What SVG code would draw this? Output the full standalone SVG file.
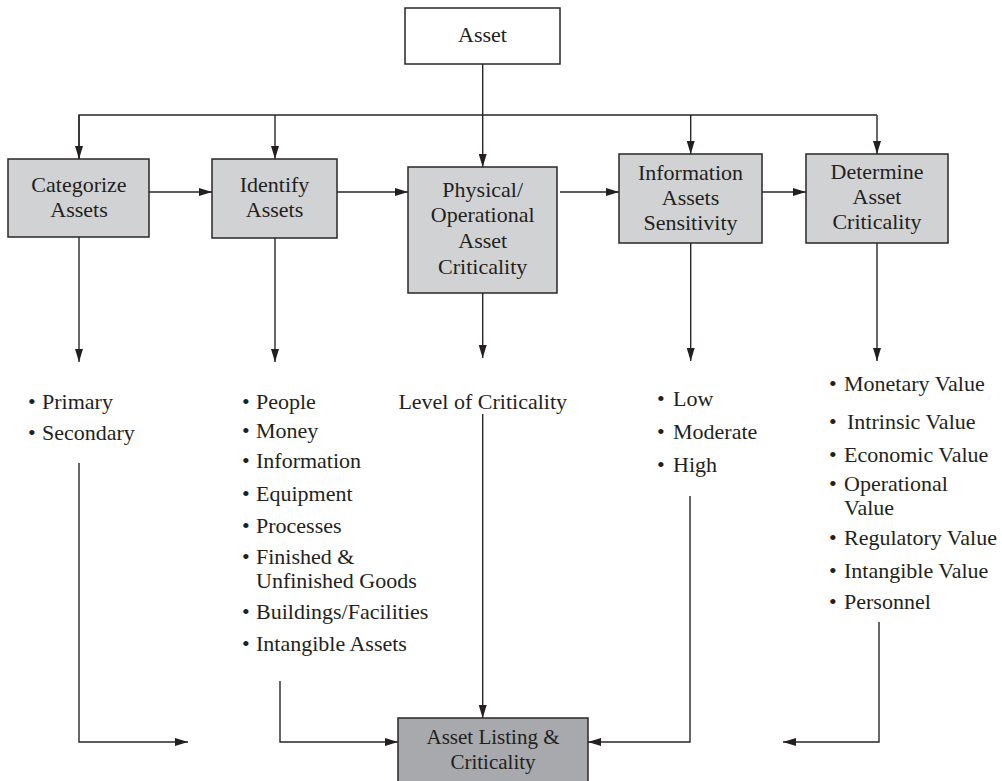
<svg xmlns="http://www.w3.org/2000/svg" width="1002" height="781" viewBox="0 0 1002 781">
  <style>
    .box { fill: #d1d2d4; stroke: #2a2627; stroke-width: 1.5; }
    .top { fill: #ffffff; stroke: #2a2627; stroke-width: 1.5; }
    .out { fill: #a7a9ac; stroke: #2a2627; stroke-width: 1.5; }
    .lbl { font-family: "Liberation Serif", "Times New Roman", serif; font-size: 22px; fill: #231f20; }
    .c { text-anchor: middle; }
    .wire { fill: none; stroke: #2a2627; stroke-width: 1.4; }
  </style>
  <defs>
    <marker id="ah" markerUnits="userSpaceOnUse" markerWidth="14" markerHeight="8" refX="13" refY="4" orient="auto">
      <path d="M0,0 L13,4 L0,8 z" fill="#231f20"/>
    </marker>
  </defs>
  <rect width="1002" height="781" fill="#ffffff"/>

  <!-- connectors -->
  <g id="connectors" class="wire">
    <!-- Asset fan-out -->
    <path d="M482.7,64 V167" marker-end="url(#ah)"/>
    <path d="M79,159 V115 H877"/>
    <path d="M79,115 V159" marker-end="url(#ah)"/>
    <path d="M275,115 V159" marker-end="url(#ah)"/>
    <path d="M690.7,115 V154" marker-end="url(#ah)"/>
    <path d="M877,115 V154" marker-end="url(#ah)"/>
    <!-- process chain -->
    <path d="M149,192 H212" marker-end="url(#ah)"/>
    <path d="M337,192 H408" marker-end="url(#ah)"/>
    <path d="M560,192 H619" marker-end="url(#ah)"/>
    <path d="M762,192 H806" marker-end="url(#ah)"/>
    <!-- boxes to their lists -->
    <path d="M79,237 V362" marker-end="url(#ah)"/>
    <path d="M275,238 V362" marker-end="url(#ah)"/>
    <path d="M482.7,293 V358" marker-end="url(#ah)"/>
    <path d="M690.7,243 V361" marker-end="url(#ah)"/>
    <path d="M877,243 V361" marker-end="url(#ah)"/>
    <!-- lists to the listing -->
    <path d="M79,463 V742 H188" marker-end="url(#ah)"/>
    <path d="M280,681 V742 H398" marker-end="url(#ah)"/>
    <path d="M482.7,414 V718" marker-end="url(#ah)"/>
    <path d="M690,496 V742 H588" marker-end="url(#ah)"/>
    <path d="M879,622 V742 H783" marker-end="url(#ah)"/>
  </g>

  <g id="asset">
    <rect class="top" x="405" y="8" width="155" height="56"/>
    <text class="lbl c" x="482.5" y="42">Asset</text>
  </g>

  <g id="categorize">
    <rect class="box" x="8" y="159" width="141" height="78"/>
    <text class="lbl c" x="79" y="192">Categorize</text>
    <text class="lbl c" x="79" y="217">Assets</text>
  </g>

  <g id="identify">
    <rect class="box" x="212" y="159" width="125" height="79"/>
    <text class="lbl c" x="274.5" y="192">Identify</text>
    <text class="lbl c" x="274.5" y="217">Assets</text>
  </g>

  <g id="physical">
    <rect class="box" x="408" y="167" width="149" height="126"/>
    <text class="lbl c" x="482.7" y="197">Physical/</text>
    <text class="lbl c" x="482.7" y="222">Operational</text>
    <text class="lbl c" x="482.7" y="248">Asset</text>
    <text class="lbl c" x="482.7" y="274">Criticality</text>
  </g>

  <g id="information">
    <rect class="box" x="619" y="154" width="143" height="89"/>
    <text class="lbl c" x="690.5" y="180">Information</text>
    <text class="lbl c" x="690.5" y="205">Assets</text>
    <text class="lbl c" x="690.5" y="230">Sensitivity</text>
  </g>

  <g id="determine">
    <rect class="box" x="806" y="154" width="142" height="89"/>
    <text class="lbl c" x="877" y="179">Determine</text>
    <text class="lbl c" x="877" y="204">Asset</text>
    <text class="lbl c" x="877" y="229">Criticality</text>
  </g>

  <g id="categories">
    <text class="lbl" y="409"><tspan x="28">•</tspan><tspan x="42">Primary</tspan></text>
    <text class="lbl" y="440"><tspan x="28">•</tspan><tspan x="42">Secondary</tspan></text>
  </g>

  <g id="asset-types">
    <text class="lbl" y="409"><tspan x="242">•</tspan><tspan x="256">People</tspan></text>
    <text class="lbl" y="438"><tspan x="242">•</tspan><tspan x="256">Money</tspan></text>
    <text class="lbl" y="468"><tspan x="242">•</tspan><tspan x="256">Information</tspan></text>
    <text class="lbl" y="501"><tspan x="242">•</tspan><tspan x="256">Equipment</tspan></text>
    <text class="lbl" y="533"><tspan x="242">•</tspan><tspan x="256">Processes</tspan></text>
    <text class="lbl" y="564"><tspan x="242">•</tspan><tspan x="256">Finished &amp;</tspan></text>
    <text class="lbl" x="256" y="588">Unfinished Goods</text>
    <text class="lbl" y="619"><tspan x="242">•</tspan><tspan x="256">Buildings/Facilities</tspan></text>
    <text class="lbl" y="651"><tspan x="242">•</tspan><tspan x="256">Intangible Assets</tspan></text>
  </g>

  <g id="criticality-level">
    <text class="lbl c" x="482.7" y="409">Level of Criticality</text>
  </g>

  <g id="sensitivity">
    <text class="lbl" y="406"><tspan x="657">•</tspan><tspan x="673">Low</tspan></text>
    <text class="lbl" y="439"><tspan x="657">•</tspan><tspan x="673">Moderate</tspan></text>
    <text class="lbl" y="472"><tspan x="657">•</tspan><tspan x="673">High</tspan></text>
  </g>

  <g id="values">
    <text class="lbl" y="391"><tspan x="829">•</tspan><tspan x="844">Monetary Value</tspan></text>
    <text class="lbl" y="429"><tspan x="829">•</tspan><tspan x="847">Intrinsic Value</tspan></text>
    <text class="lbl" y="462"><tspan x="829">•</tspan><tspan x="844">Economic Value</tspan></text>
    <text class="lbl" y="491"><tspan x="829">•</tspan><tspan x="844">Operational</tspan></text>
    <text class="lbl" x="844" y="515">Value</text>
    <text class="lbl" y="545"><tspan x="829">•</tspan><tspan x="844">Regulatory Value</tspan></text>
    <text class="lbl" y="578"><tspan x="829">•</tspan><tspan x="844">Intangible Value</tspan></text>
    <text class="lbl" y="609"><tspan x="829">•</tspan><tspan x="844">Personnel</tspan></text>
  </g>

  <g id="listing">
    <rect class="out" x="398" y="718" width="190" height="80"/>
    <text class="lbl c" x="493" y="744" style="font-size:21px">Asset Listing &amp;</text>
    <text class="lbl c" x="493" y="769" style="font-size:21px">Criticality</text>
  </g>
</svg>
